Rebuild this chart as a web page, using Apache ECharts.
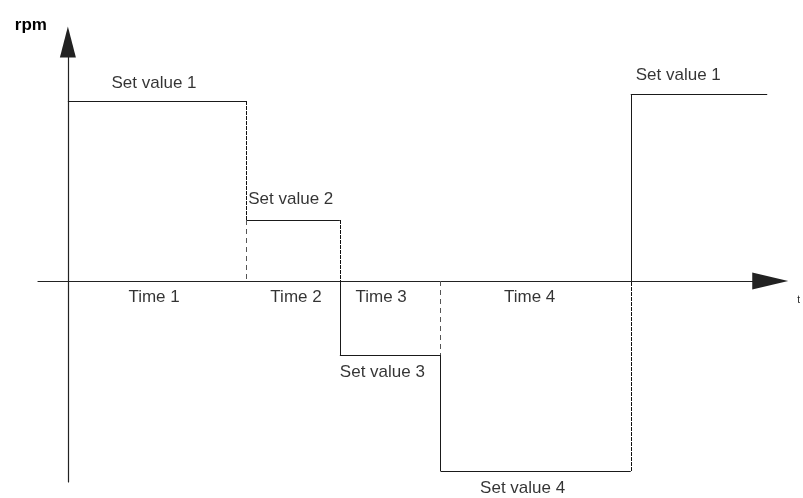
<!DOCTYPE html>
<html>
<head>
<meta charset="utf-8">
<script src="https://cdn.jsdelivr.net/npm/echarts@6/dist/echarts.min.js"></script>
<style>
  html, body { margin: 0; padding: 0; background: #fff; }
  #chart { width: 803px; height: 498px; }
</style>
</head>
<body>
<div id="chart"></div>
<script>
// step profile: phase boundaries on t, set value (rpm) in each phase
const times = [0, 179, 273, 374, 565, 705];
const levels = [180, 61, -74, -190, 187];
const setLabels = ["Set value 1", "Set value 2", "Set value 3", "Set value 4", "Set value 1"];
const timeLabels = ["Time 1", "Time 2", "Time 3", "Time 4"];

const ink = "#1a1a1a";
const font = "'Liberation Sans', Arial, sans-serif";

// horizontal pieces of the profile
const segs = [];
for (let i = 0; i < levels.length; i++) {
  const end = i === levels.length - 1 ? 702 : times[i + 1];
  segs.push({ coords: [[times[i], levels[i]], [end, levels[i]]] });
}
// vertical pieces: dashed up to the t axis, solid for the rest (as drawn)
const dense = { type: [4, 1], color: "#111" };
const loose = { type: [5, 4], color: "#555" };
function vert(t, a, b, style) {
  const s = { coords: [[t, a], [t, b]] };
  if (style) s.lineStyle = style;
  segs.push(s);
}
vert(times[1], levels[0], levels[1], dense);
vert(times[1], levels[1], 0, loose);
vert(times[2], levels[1], 0, dense);
vert(times[2], 0, levels[2], null);
vert(times[3], 0, levels[2], loose);
vert(times[3], levels[2], levels[3], null);
vert(times[4], levels[3], 0, dense);
vert(times[4], 0, levels[4], null);

// where each label sits relative to its phase
const setPlace = [
  { at: "mid", align: "center", dx: -3, dy: -18 },
  { at: "start", align: "left", dx: 2, dy: -21 },
  { at: "start", align: "left", dx: 0, dy: 17 },
  { at: "mid", align: "center", dx: -13, dy: 17 },
  { at: "start", align: "left", dx: 5, dy: -19 }
];
const timeDx = [-3, 3, -9, -6];

const labelPts = [];
setLabels.forEach((txt, i) => {
  const p = setPlace[i];
  const end = i === levels.length - 1 ? 702 : times[i + 1];
  const x = p.at === "mid" ? (times[i] + end) / 2 : times[i];
  labelPts.push({
    value: [x, levels[i]],
    label: { formatter: txt, align: p.align, offset: [p.dx, p.dy] }
  });
});
timeLabels.forEach((txt, i) => {
  labelPts.push({
    value: [(times[i] + times[i + 1]) / 2, 0],
    label: { formatter: txt, align: "center", offset: [timeDx[i], 16] }
  });
});

const chart = echarts.init(document.getElementById("chart"));
chart.setOption({
  animation: false,
  backgroundColor: "#fff",
  grid: { left: 38, right: 30, top: 42, bottom: 16, containLabel: false },
  xAxis: {
    type: "value",
    min: -30,
    max: 705,
    name: "t",
    nameLocation: "end",
    nameGap: 27,
    nameTextStyle: { fontSize: 10, fontFamily: font, color: "#222", verticalAlign: "top", padding: [14, 0, 0, 0] },
    axisLine: { onZero: true, lineStyle: { color: "#222", width: 1.2 }, symbol: ["none", "triangle"], symbolSize: [17, 36] },
    axisTick: { show: false },
    axisLabel: { show: false },
    splitLine: { show: false }
  },
  yAxis: {
    type: "value",
    min: -201,
    max: 239,
    name: "rpm",
    nameLocation: "end",
    nameGap: 17,
    nameTextStyle: { fontSize: 17, fontWeight: "bold", fontFamily: font, color: "#000", align: "right", verticalAlign: "middle", padding: [0, 21, 0, 0] },
    axisLine: { onZero: true, lineStyle: { color: "#222", width: 1.2 }, symbol: ["none", "triangle"], symbolSize: [16, 31] },
    axisTick: { show: false },
    axisLabel: { show: false },
    splitLine: { show: false }
  },
  series: [
    {
      type: "lines",
      coordinateSystem: "cartesian2d",
      silent: true,
      lineStyle: { color: ink, width: 1, opacity: 1 },
      data: segs
    },
    {
      type: "scatter",
      clip: false,
      silent: true,
      symbolSize: 0,
      label: {
        show: true,
        position: "inside",
        verticalAlign: "middle",
        fontSize: 17,
        fontFamily: font,
        color: "#000",
        textBorderWidth: 0
      },
      data: labelPts
    }
  ]
});
</script>
</body>
</html>
